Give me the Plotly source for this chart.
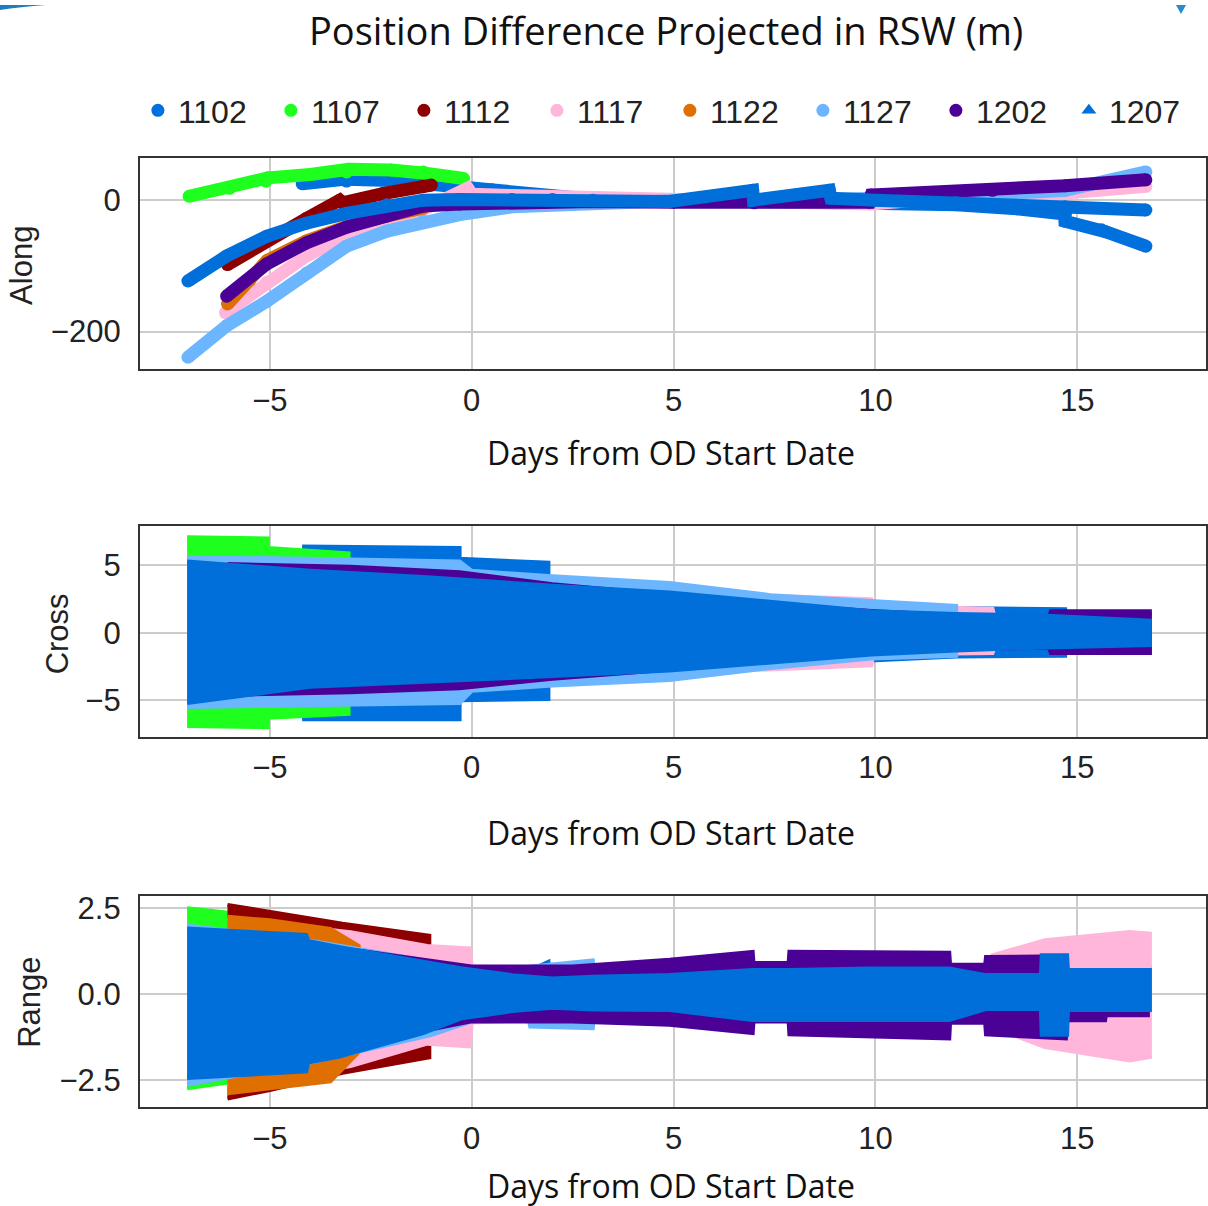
import plotly.graph_objects as go

W, H = 1208, 1206

names = ["1102", "1107", "1112", "1117", "1122", "1127", "1202", "1207"]
colors = {
    "1102": "#0070DC", "1107": "#1EFF1E", "1112": "#8E0000", "1117": "#FFB6DA",
    "1122": "#DE6F00", "1127": "#6CB6FF", "1202": "#4B0096", "1207": "#006FDA",
}
symbols = {n: "circle" for n in names}
symbols["1207"] = "triangle-up"

# ---------------- Along (m) ----------------
along_days = {
    "1102": [-4.2, -3.1, -3.1, -2.0, -1.2, -0.3, 0.5, 1.5, 2.5, 4.0, 6.0, 8.0, 10.0, 12.0, 13.5, 14.7, 14.7, 15.6, 15.7, 16.7],
    "1107": [-7.0, -6.0, -5.1, -5.05, -4.0, -3.1, -3.05, -2.0, -1.2, -1.15, -0.2],
    "1112": [-6.05, -5.07, -4.1, -3.27, -3.2, -2.2, -1.2, -1.0],
    "1117": [-6.1, -5.08, -4.1, -3.1, -2.1, -1.2, -0.1, 0.0, 1.0, 2.5, 4.0, 7.0, 9.9, 12.0, 14.7, 16.7],
    "1122": [-6.05, -5.5, -5.07, -4.1, -3.1, -2.1, -1.2],
    "1127": [-7.03, -6.07, -5.08, -4.09, -3.1, -2.1, -1.2, -0.3, 1.0, 3.0, 5.0, 8.0, 10.0, 12.0, 14.7, 16.7],
    "1202": [-6.07, -5.08, -4.1, -3.1, -2.1, -1.2, -0.3, 1.0, 3.0, 5.0, 7.0, 9.85, 9.9, 12.9, 14.7, 16.7],
    "1207": [-7.03, -6.07, -5.08, -4.1, -3.1, -2.1, -1.2, -0.3, 1.0, 2.0, 3.0, 4.9, 6.96, 6.98, 8.86, 8.9, 10.0, 12.0, 14.7, 16.7],
}
along_vals = {
    "1102": [25, 29, 32, 30, 25, 21, 16, 9, 4, 1, -1, -2, -3, -7, -13, -21, -32, -45, -48, -70],
    "1107": [6, 18, 29, 34, 39, 43, 47, 46, 43, 41, 33],
    "1112": [-98, -60, -28, 0, -4, 10, 21, 23],
    "1117": [-171, -125, -85, -55, -33, -14, 18, 9, 7, 4, 1, -2, -6, 5, 11, 21],
    "1122": [-158, -122, -92, -62, -40, -24, -12],
    "1127": [-239, -191, -154, -111, -70, -47, -32, -22, -10, -4, -1, 0, 2, 6, 15, 43],
    "1202": [-146, -97, -65, -41, -24, -9, -6, -3, -2, -3, -4, -3, 8, 15, 22, 31],
    "1207": [-123, -85, -55, -35, -20, -7, 0, 1, 1, 1, 0, -2, 15, 0, 15, 3, 0, -4, -10, -15],
}

# ---------------- Cross (m): band envelopes ----------------
cross_days = {
    "1102": [-4.2, -0.3, -0.3, 1.9, 1.9, 5.0, 8.0, 10.0, 12.0, 14.7, 14.7, 16.8],
    "1107": [-7.05, -5.05, -5.05, -3.05],
    "1112": [-6.05, -3.3, -1.0],
    "1117": [-6.05, -3.0, 0.0, 5.0, 9.9, 9.95, 12.9, 12.95, 16.8],
    "1122": [-6.05, -1.0],
    "1127": [-7.05, -4.0, -0.3, 0.0, 2.0, 4.9, 7.4, 9.9, 12.0],
    "1202": [-6.05, -3.0, -0.3, 2.0, 5.0, 8.0, 10.0, 12.0, 14.3, 14.35, 16.8],
    "1207": [-7.05, -4.0, -1.0, 2.0, 4.9, 7.4, 9.9, 12.0, 14.0, 16.8],
}
cross_upper = {
    "1102": [6.4, 6.3, 5.5, 5.2, 4.0, 3.0, 2.4, 2.1, 1.85, 1.75, 1.45, 1.4],
    "1107": [7.1, 7.0, 6.3, 5.9],
    "1112": [4.6, 4.2, 3.8],
    "1117": [4.9, 4.6, 4.0, 3.0, 2.5, 2.0, 1.8, 1.2, 1.1],
    "1122": [4.4, 3.8],
    "1127": [5.6, 5.5, 5.3, 4.6, 4.2, 3.7, 2.8, 2.35, 2.0],
    "1202": [5.1, 4.9, 4.5, 3.6, 2.8, 2.0, 1.6, 1.3, 1.2, 1.6, 1.6],
    "1207": [5.3, 4.6, 4.1, 3.5, 3.0, 2.3, 1.6, 1.4, 1.3, 0.9],
}
cross_lower = {
    "1102": [-6.4, -6.4, -5.0, -4.9, -3.8, -2.9, -2.3, -2.0, -1.75, -1.7, -1.4, -1.4],
    "1107": [-6.9, -7.0, -6.3, -6.0],
    "1112": [-4.6, -4.2, -3.8],
    "1117": [-4.9, -4.6, -4.0, -3.0, -2.4, -1.6, -1.5, -1.1, -1.0],
    "1122": [-4.4, -3.8],
    "1127": [-5.5, -5.4, -5.2, -4.3, -3.9, -3.5, -2.6, -1.9, -1.7],
    "1202": [-4.6, -4.4, -4.1, -3.4, -2.7, -1.9, -1.5, -1.2, -1.1, -1.5, -1.5],
    "1207": [-5.2, -4.0, -3.6, -3.2, -2.8, -2.2, -1.6, -1.3, -1.1, -0.9],
}

# ---------------- Range (m): band envelopes ----------------
range_days = {
    "1102": [-4.2, -0.3, 1.0, 1.9, 1.92, 3.0, 3.5, 3.52, 5.0, 10.0, 14.7, 16.8],
    "1107": [-7.05, -3.1],
    "1112": [-6.05, -5.0, -3.2, -1.05],
    "1117": [-6.05, -3.0, -1.1, -0.05, 0.0, 1.8, 3.0, 5.0, 10.0, 12.85, 12.9, 14.2, 16.3, 16.8],
    "1122": [-6.05, -5.0, -3.5, -2.8],
    "1127": [-7.05, -4.0, -1.0, 0.0, 1.4, 1.45, 3.0, 3.05],
    "1202": [-6.05, -3.0, 0.0, 2.5, 4.9, 6.96, 6.98, 7.85, 7.87, 9.85, 11.83, 11.85, 12.72, 12.74, 14.72, 14.74, 15.69, 15.71, 16.75],
    "1207": [-7.05, -4.1, -4.05, -3.3, -1.2, -0.27, 1.0, 2.0, 3.0, 4.9, 6.96, 7.87, 9.85, 11.83, 12.74, 14.1, 14.12, 14.75, 14.77, 16.8],
}
range_upper = {
    "1102": [1.6, 0.7, 0.45, 0.94, 0.45, 0.55, 0.85, 0.5, 0.5, 0.7, 0.6, 0.75],
    "1107": [2.5, 2.0],
    "1112": [2.6, 2.4, 2.05, 1.7],
    "1117": [2.2, 1.8, 1.4, 1.33, 0.8, 0.75, 0.5, 0.5, 0.6, 0.7, 1.13, 1.57, 1.81, 1.76],
    "1122": [2.25, 2.15, 1.9, 1.4],
    "1127": [2.0, 1.55, 0.95, 0.7, 0.6, 0.8, 0.98, 0.4],
    "1202": [1.8, 1.3, 0.8, 0.8, 1.0, 1.23, 0.9, 0.9, 1.23, 1.22, 1.2, 0.85, 0.85, 1.08, 1.1, 0.69, 0.69, 0.55, 0.55],
    "1207": [1.91, 1.72, 1.55, 1.37, 0.94, 0.75, 0.55, 0.45, 0.5, 0.55, 0.7, 0.7, 0.74, 0.74, 0.55, 0.55, 1.13, 1.13, 0.7, 0.7],
}
range_lower = {
    "1102": [-1.9, -0.65, -0.4, -0.55, -0.4, -0.45, -0.75, -0.45, -0.45, -0.7, -0.5, -0.5],
    "1107": [-2.75, -2.1],
    "1112": [-3.05, -2.8, -2.3, -1.85],
    "1117": [-2.7, -2.1, -1.45, -1.53, -0.83, -0.75, -0.5, -0.5, -0.6, -0.7, -0.97, -1.55, -1.94, -1.84],
    "1122": [-2.9, -2.75, -2.55, -1.7],
    "1127": [-2.65, -2.0, -1.2, -0.8, -0.7, -0.95, -1.0, -0.4],
    "1202": [-2.2, -1.5, -0.8, -0.8, -0.9, -1.14, -0.8, -0.8, -1.18, -1.25, -1.3, -0.84, -0.84, -1.18, -1.3, -0.77, -0.77, -0.62, -0.62],
    "1207": [-2.45, -2.26, -2.0, -1.83, -1.14, -0.72, -0.5, -0.4, -0.45, -0.47, -0.76, -0.76, -0.76, -0.76, -0.44, -0.44, -1.19, -1.19, -0.47, -0.47],
}

x_ticks = [-5, 0, 5, 10, 15]
along_ticks = [-200, 0]
cross_ticks = [-5, 0, 5]
range_ticks = [-2.5, 0, 2.5]
range_ticktext = ["\u22122.5", "0.0", "2.5"]

fig = go.Figure()

# Along panel: thick lines
for n in names:
    fig.add_trace(go.Scatter(
        x=along_days[n], y=along_vals[n], mode="lines+markers",
        line=dict(color=colors[n], width=13),
        marker=dict(color=colors[n], size=13, symbol="circle"),
        xaxis="x", yaxis="y", showlegend=False, hoverinfo="skip"))


def band(days, up, lo, n, xa, ya):
    xs = list(days) + list(days)[::-1]
    ys = list(up) + list(lo)[::-1]
    return go.Scatter(x=xs, y=ys, mode="lines", fill="toself",
                      fillcolor=colors[n], line=dict(color=colors[n], width=4),
                      xaxis=xa, yaxis=ya, showlegend=False, hoverinfo="skip")


for n in names:
    fig.add_trace(band(cross_days[n], cross_upper[n], cross_lower[n], n, "x2", "y2"))
for n in names:
    fig.add_trace(band(range_days[n], range_upper[n], range_lower[n], n, "x3", "y3"))

# legend entries
for n in names:
    fig.add_trace(go.Scatter(
        x=[None], y=[None], mode="markers", name=n,
        marker=dict(color=colors[n], size=13, symbol=symbols[n]),
        xaxis="x", yaxis="y", showlegend=True))


def px_x(X):
    return X / W


def px_y(Y):
    return 1 - Y / H


xdom = [px_x(140), px_x(1207)]
doms = [(154, 366), (523, 735), (895, 1107)]
yranges = [[-257.6, 63.6], [-7.72, 7.94], [-3.31, 2.85]]
xrange_ = [-8.22, 18.19]

tickfont = dict(family="Liberation Sans, Arial, sans-serif", size=31, color="#222222")
axis_common = dict(showline=True, mirror=True, linecolor="#333333", linewidth=2,
                   showgrid=True, gridcolor="#CCCCCC", gridwidth=2,
                   zeroline=False, ticks="", tickfont=tickfont)

layout = dict(
    width=W, height=H, margin=dict(l=0, r=0, t=0, b=0),
    paper_bgcolor="white", plot_bgcolor="white", showlegend=True,
    legend=dict(orientation="h", x=px_x(138), y=px_y(106), yanchor="middle", xanchor="left",
                font=dict(family="Liberation Sans, Arial, sans-serif", size=32, color="#222222"),
                entrywidth=88, entrywidthmode="pixels", itemwidth=30,
                tracegroupgap=0, borderwidth=0, bgcolor="rgba(0,0,0,0)"),
)
for i, (top, bot) in enumerate(doms):
    sfx = "" if i == 0 else str(i + 1)
    layout["xaxis" + sfx] = dict(domain=xdom, range=xrange_, tickvals=x_ticks,
                                 anchor="y" + sfx, ticklabelstandoff=2, **axis_common)
    ya = dict(domain=[px_y(bot), px_y(top)], range=yranges[i], anchor="x" + sfx,
              ticklabelstandoff=11, **axis_common)
    if i == 0:
        ya["tickvals"] = along_ticks
    elif i == 1:
        ya["tickvals"] = cross_ticks
    else:
        ya["tickvals"] = range_ticks
        ya["ticktext"] = range_ticktext
    layout["yaxis" + sfx] = ya

fig.update_layout(**layout)

title_font = dict(family="Open Sans, Noto Sans, sans-serif", size=38, color="#111111")
xt_font = dict(family="Open Sans, Noto Sans, sans-serif", size=32, color="#111111")
yt_font = dict(family="Liberation Sans, Arial, sans-serif", size=31, color="#222222")
ann = [
    dict(text="Position Difference Projected in RSW (m)", x=px_x(667), y=px_y(25),
         font=title_font, borderpad=0),
    dict(text="Days from OD Start Date", x=px_x(672), y=px_y(449), font=xt_font),
    dict(text="Days from OD Start Date", x=px_x(672), y=px_y(831), font=xt_font),
    dict(text="Days from OD Start Date", x=px_x(672), y=px_y(1185), font=xt_font),
    dict(text="Along", x=px_x(22), y=px_y(261), font=yt_font, textangle=-90),
    dict(text="Cross", x=px_x(57), y=px_y(631), font=yt_font, textangle=-90),
    dict(text="Range", x=px_x(30), y=px_y(1001), font=yt_font, textangle=-90),
]
for a in ann:
    fig.add_annotation(xref="paper", yref="paper", xanchor="center", yanchor="middle",
                       showarrow=False, **a)

# decorative slide corner marks
fig.add_shape(type="path", xref="paper", yref="paper", line=dict(width=0), fillcolor="#1C7DC2",
              path=f"M 0,1 L {px_x(46)},1 Q {px_x(20)},{px_y(2)} 0,{px_y(5)} Z")
fig.add_shape(type="path", xref="paper", yref="paper", line=dict(width=0), fillcolor="#2A8AD0",
              path=f"M {px_x(1177)},1 L {px_x(1187)},1 L {px_x(1182)},{px_y(9)} Z")

fig.write_html("out.html", config={"displayModeBar": False},
               post_script="document.body.style.margin='0';document.body.style.overflow='hidden';")
